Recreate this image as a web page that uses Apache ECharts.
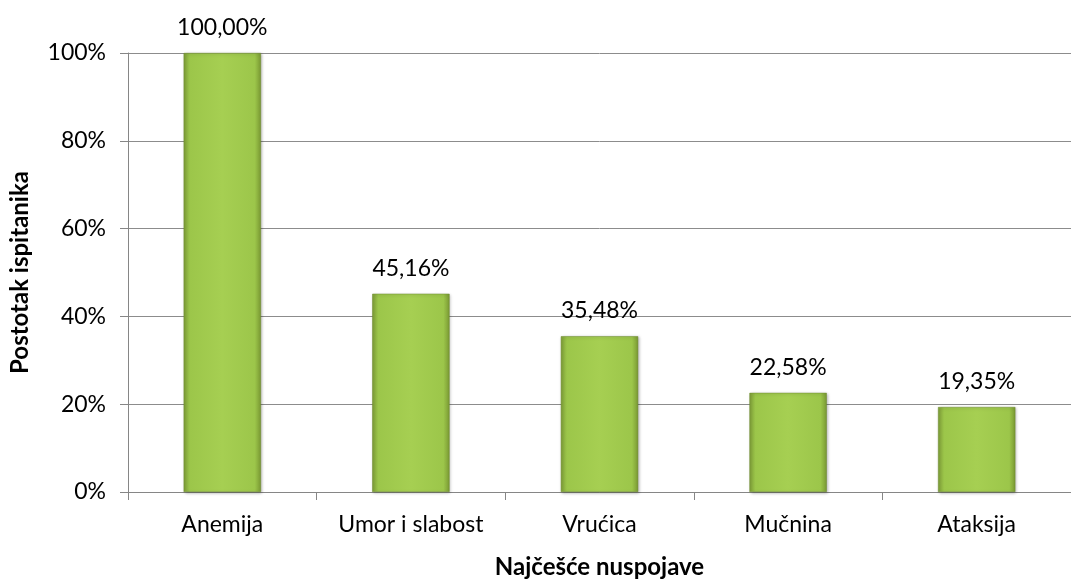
<!DOCTYPE html>
<html>
<head>
<meta charset="utf-8">
<script src="https://cdn.jsdelivr.net/npm/echarts@6/dist/echarts.min.js"></script>
<style>
  html, body { margin: 0; padding: 0; background: #fff; }
  #chart { width: 1071px; height: 580px; }
</style>
</head>
<body>
<div id="chart"></div>
<script>
const categories = ['Anemija', 'Umor i slabost', 'Vrućica', 'Mučnina', 'Ataksija']
const values = [100.00, 45.16, 35.48, 22.58, 19.35]
const yTicks = [0, 20, 40, 60, 80, 100]

const font = 'Lato, "Open Sans", sans-serif'
const barColor = new echarts.graphic.LinearGradient(0, 0, 1, 0, [
  { offset: 0, color: '#7f9f38' },
  { offset: 0.08, color: '#9cc64a' },
  { offset: 0.5, color: '#a6cf52' },
  { offset: 0.92, color: '#9cc64a' },
  { offset: 1, color: '#7a9933' }
])

const chart = echarts.init(document.getElementById('chart'))
chart.setOption({
  animation: false,
  textStyle: { fontFamily: font },
  grid: { left: 128, right: 0, top: 53, bottom: 88, containLabel: false, outerBoundsMode: 'none' },
  xAxis: {
    type: 'category',
    data: categories,
    axisLine: { lineStyle: { color: '#868686', width: 1 } },
    axisTick: { show: true, length: 8, interval: 0, lineStyle: { color: '#868686' } },
    axisLabel: { color: '#000', fontSize: 23, margin: 21, interval: 0, hideOverlap: false, fontFamily: font },
    name: 'Najčešće nuspojave',
    nameLocation: 'middle',
    nameGap: 63,
    nameTextStyle: { color: '#000', fontSize: 24, fontWeight: 'bold', fontFamily: font }
  },
  yAxis: {
    type: 'value',
    min: yTicks[0],
    max: yTicks[yTicks.length - 1],
    interval: 20,
    axisLine: { show: true, lineStyle: { color: '#868686', width: 1 } },
    axisTick: { show: true, length: 8, lineStyle: { color: '#868686' } },
    axisLabel: { color: '#000', fontSize: 23, margin: 22, formatter: '{value}%', fontFamily: font },
    splitLine: { lineStyle: { color: '#8c8c8c', width: 1 } },
    name: 'Postotak ispitanika',
    nameLocation: 'middle',
    nameGap: 96,
    nameTextStyle: { color: '#000', fontSize: 24, fontWeight: 'bold', fontFamily: font }
  },
  series: [{
    type: 'bar',
    data: values,
    barWidth: '41%',
    itemStyle: {
      color: barColor,
      borderColor: '#6f8c2e',
      borderWidth: 0.5,
      shadowColor: 'rgba(0,0,0,0.3)',
      shadowBlur: 3,
      shadowOffsetX: 1,
      shadowOffsetY: 1
    },
    label: {
      show: true,
      position: 'top',
      distance: 14,
      color: '#000',
      fontSize: 23,
      fontFamily: font,
      formatter: p => p.value.toFixed(2).replace('.', ',') + '%'
    }
  }]
})
</script>
</body>
</html>
